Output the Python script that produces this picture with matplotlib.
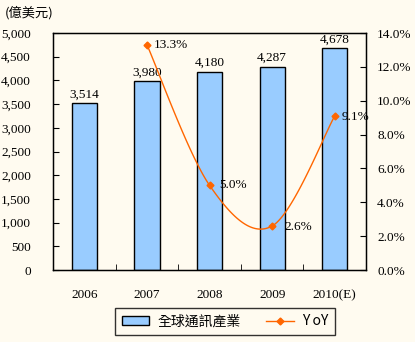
import numpy as np
import matplotlib
matplotlib.use("Agg")
import matplotlib.pyplot as plt
from matplotlib.lines import Line2D
from matplotlib.patches import Patch

categories = ["2006", "2007", "2008", "2009", "2010(E)"]
revenue = [3514, 3980, 4180, 4287, 4678]
yoy_x = [1, 2, 3, 4]
yoy = [13.3, 5.0, 2.6, 9.1]
yoy_labels = ["13.3%", "5.0%", "2.6%", "9.1%"]
left_ticks = list(range(0, 5001, 500))
right_ticks = [0, 2, 4, 6, 8, 10, 12, 14]

bg = "#FFFBF0"
bar_color = "#99CCFF"
line_color = "#FF6600"
serif = ["Liberation Serif", "DejaVu Serif"]
cjk = ["Noto Sans CJK TC", "DejaVu Sans"]
fs = 9.5

fig = plt.figure(figsize=(4.15, 3.42), dpi=100, facecolor=bg)
ax = fig.add_axes([0.128, 0.2105, 0.754, 0.693])
ax.set_facecolor(bg)
ax2 = ax.twinx()

x = np.arange(len(categories))
ax.bar(x, revenue, width=0.4, color=bar_color, edgecolor="black", linewidth=1.0, zorder=2)
for xi, v in zip(x, revenue):
    ax.text(xi, v + 60, f"{v:,}", ha="center", va="bottom", fontsize=fs, family=serif)

ax.set_xlim(-0.5, len(categories) - 0.5)
ax.set_ylim(0, 5000)
ax.set_yticks(left_ticks)
ax.set_yticklabels([f"{t:,}" for t in left_ticks], family=serif, fontsize=fs)
ax.set_xticks(x)
ax.set_xticklabels(categories, family=serif, fontsize=fs)
ax.set_xticks(np.arange(len(categories) + 1) - 0.5, minor=True)
ax.tick_params(axis="x", which="major", length=0, pad=14)
ax.tick_params(axis="x", which="minor", direction="in", length=4)
ax.tick_params(axis="y", direction="in", length=4, pad=16)
for s in ax.spines.values():
    s.set_linewidth(1.0)

ax2.set_ylim(0, 14)
ax2.set_yticks(right_ticks)
ax2.set_yticklabels([f"{t:.1f}%" for t in right_ticks], family=serif, fontsize=fs)
ax2.tick_params(axis="y", direction="in", length=4, pad=8)

# smoothed line (Catmull-Rom in axes-fraction space)
px = np.array([(xi + 0.5) / len(categories) for xi in yoy_x])
py = np.array([v / 14.0 for v in yoy])
P = np.column_stack([px, py])
Pext = np.vstack([P[0], P, P[-1]])
curve = []
t = np.linspace(0, 1, 40)
for i in range(1, len(Pext) - 2):
    p0, p1, p2, p3 = Pext[i - 1], Pext[i], Pext[i + 1], Pext[i + 2]
    c1 = p1 + (p2 - p0) / 6.0
    c2 = p2 - (p3 - p1) / 6.0
    seg = ((1 - t) ** 3)[:, None] * p1 + (3 * (1 - t) ** 2 * t)[:, None] * c1 + \
          (3 * (1 - t) * t ** 2)[:, None] * c2 + (t ** 3)[:, None] * p2
    curve.append(seg)
curve = np.vstack(curve)
ax2.plot(curve[:, 0], curve[:, 1], color=line_color, linewidth=1.0, transform=ax2.transAxes, zorder=3)
ax2.plot(yoy_x, yoy, linestyle="none", marker="D", markersize=3.5, color=line_color, zorder=4)
offsets = [(5, 0), (7, 0), (9, -1), (5, -1)]
for xi, v, lab, (dx, dy) in zip(yoy_x, yoy, yoy_labels, offsets):
    ax2.annotate(lab, (xi, v), xytext=(dx, dy), textcoords="offset points",
                 ha="left", va="center", fontsize=fs, family=serif)

fig.text(0.012, 0.962, "(億美元)", ha="left", va="center", fontsize=fs, family=cjk)

handles = [Patch(facecolor=bar_color, edgecolor="black", linewidth=1.0),
           Line2D([0], [0], color=line_color, marker="D", markersize=3.5, linewidth=1.0)]
leg = fig.legend(handles, ["全球通訊產業", "Y oY"], loc="center", bbox_to_anchor=(0.542, 0.06),
                 ncol=2, frameon=True, fancybox=False, edgecolor="black", facecolor=bg,
                 prop={"family": cjk, "size": 10}, handlelength=2.0, columnspacing=1.8,
                 handletextpad=0.6, borderpad=0.45)
leg.get_frame().set_linewidth(1.0)

fig.savefig("out.png", dpi=100, facecolor=bg)
